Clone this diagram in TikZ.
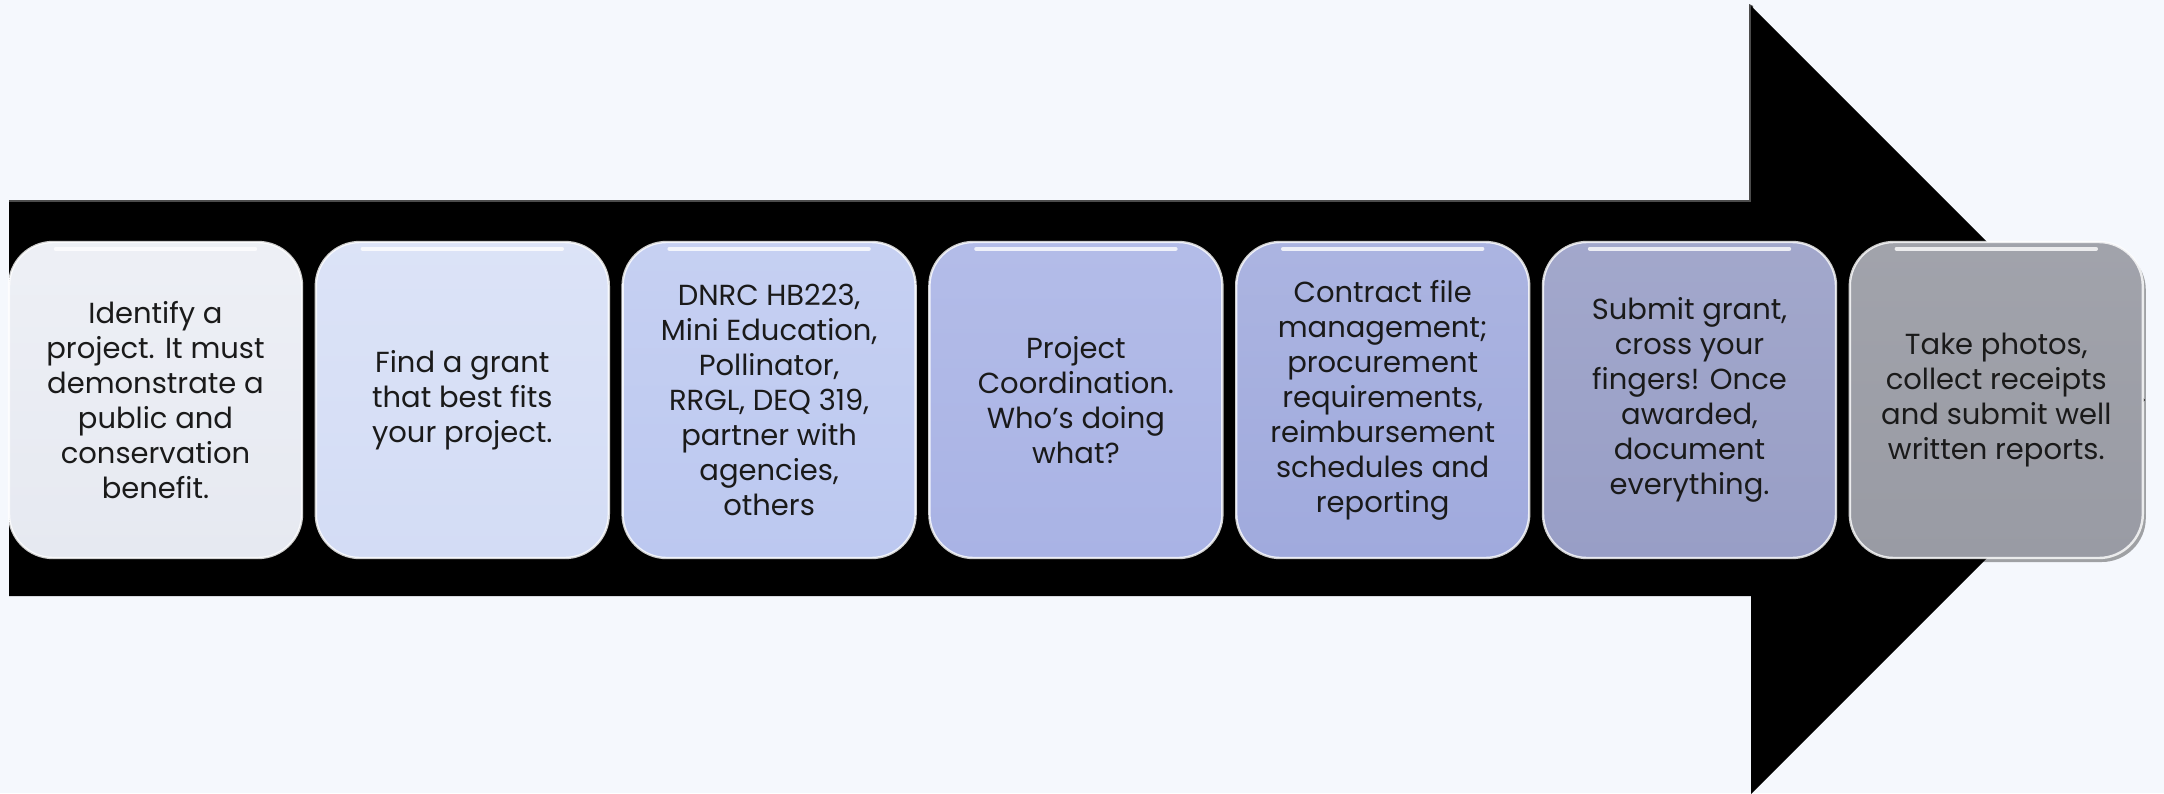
\documentclass[tikz,border=0pt]{standalone}
\usepackage{fontspec}
\setmainfont{Poppins}
\usetikzlibrary{shadows}
\definecolor{bgc}{HTML}{F5F8FD}
\definecolor{txt}{HTML}{1A1A1A}
\definecolor{c1}{HTML}{E6E9F1}
\definecolor{c2}{HTML}{D3DCF5}
\definecolor{c3}{HTML}{BCC8F0}
\definecolor{c4}{HTML}{A9B3E5}
\definecolor{c5}{HTML}{A0AADD}
\definecolor{c6}{HTML}{989EC6}
\definecolor{c7}{HTML}{999BA4}
\tikzset{
  stepbox/.style={rectangle, rounded corners=22pt, minimum width=146.5pt, minimum height=158pt,
    inner sep=0pt, align=center, text=txt, draw=white, draw opacity=0.8, line width=1.2pt,
    font=\fontsize{14.5}{17.5}\selectfont,
    drop shadow={shadow xshift=1.5pt, shadow yshift=-2pt, fill=black, opacity=0.35}},
  gloss/.style={white, line width=2pt, line cap=round, opacity=0.8},
}
\begin{document}
\begin{tikzpicture}[x=0.5pt,y=-0.5pt]
\fill[bgc] (0,0) rectangle (2164,793);
\begin{scope}
\clip (0,0) rectangle (2164,793);
\fill[black!70] (9,200) -- (1749,200) -- (1749,4) -- (1753,6) -- (1753,204) -- (9,204) -- cycle;
\fill[black] (9,202) -- (1751,202) -- (1751,6) -- (2145,400) -- (1751,794) -- (1751,596) -- (9,596) -- cycle;
\end{scope}
\useasboundingbox (0,0) rectangle (2164,793);
\node[stepbox, top color=c1!70!white, bottom color=c1] (s1) at (155.5,400) {Identify a\\project. It must\\demonstrate a\\public and\\conservation\\benefit.};
\node[stepbox, top color=c2!80!white, bottom color=c2] (s2) at (462.3,400) {Find a grant\\that best fits\\your project.};
\node[stepbox, top color=c3!85!white, bottom color=c3] (s3) at (769.1,400) {DNRC HB223,\\Mini Education,\\Pollinator,\\RRGL, DEQ 319,\\partner with\\agencies,\\others};
\node[stepbox, top color=c4!88!white, bottom color=c4] (s4) at (1075.9,400) {Project\\Coordination.\\Who’s doing\\what?};
\node[stepbox, top color=c5!88!white, bottom color=c5] (s5) at (1382.7,400) {Contract file\\management;\\procurement\\requirements,\\reimbursement\\schedules and\\reporting};
\node[stepbox, top color=c6!90!white, bottom color=c6] (s6) at (1689.5,400) {Submit grant,\\cross your\\fingers! Once\\awarded,\\document\\everything.};
\node[stepbox, top color=c7!92!white, bottom color=c7] (s7) at (1996.3,400) {Take photos,\\collect receipts\\and submit well\\written reports.};
\foreach \n in {s1,s2,s3,s4,s5,s6,s7}{
  \draw[gloss] ([xshift=24pt,yshift=-4pt]\n.north west) -- ([xshift=-24pt,yshift=-4pt]\n.north east);
}
\end{tikzpicture}
\end{document}
